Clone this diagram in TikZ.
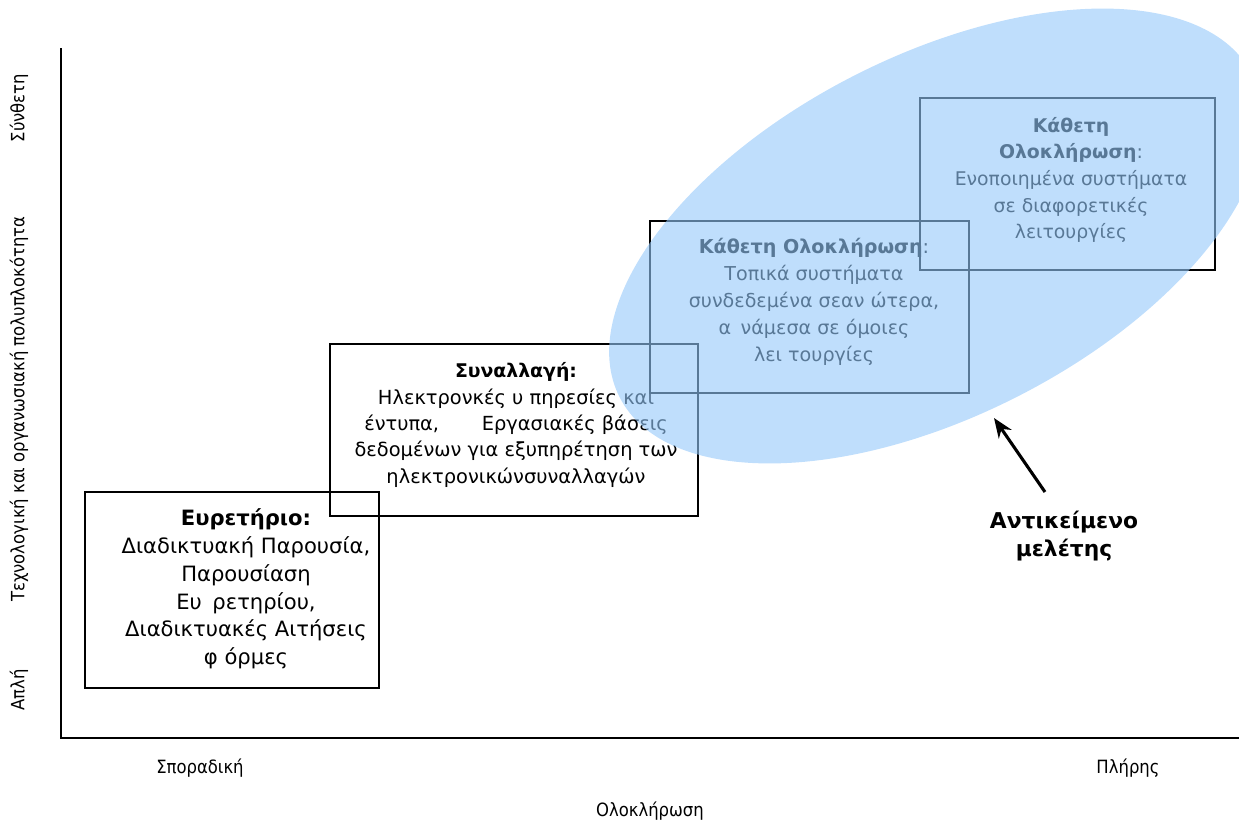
\documentclass[tikz,border=0pt]{standalone}
\usepackage{fontspec}
\setmainfont{DejaVu Sans}
\newfontfamily\axisfont{DejaVu Sans Condensed}
\usetikzlibrary{arrows.meta}
\definecolor{zoneblue}{RGB}{148,200,250}
\tikzset{
  stagebox/.style={draw=black, line width=1.6pt, inner sep=0pt},
  stagetext/.style={align=center, inner sep=0pt},
  axislabel/.style={font=\axisfont\fontsize{13}{15}\selectfont, inner sep=0pt},
  axisline/.style={line width=1.5pt},
}
\begin{document}
\begin{tikzpicture}[x=0.025cm, y=-0.025cm]
\useasboundingbox (0,0) rectangle (1239,822);

% axes
\coordinate (ytop) at (61,48);
\coordinate (origin) at (61,738);
\coordinate (xend) at (1239,738);
\draw[axisline] (ytop) -- (origin) -- (xend);

% axis labels
\node[axislabel, rotate=90] (simple) at (19,690) {Απλή};
\node[axislabel, rotate=90] (complexity) at (19,409) {Τεχνολογική και οργανωσιακή πολυπλοκότητα};
\node[axislabel, rotate=90] (compound) at (19,108) {Σύνθετη};
\node[axislabel] (sporadic) at (200,768) {Σποραδική};
\node[axislabel] (full) at (1128,768) {Πλήρης};
\node[axislabel] (integration) at (650,811) {Ολοκλήρωση};

% stage boxes
\node[stagebox, minimum width=7.35cm, minimum height=4.9cm] (b1) at (232,590) {};
\node[stagebox, minimum width=9.2cm, minimum height=4.3cm] (b2) at (514,430) {};
\node[stagebox, minimum width=7.975cm, minimum height=4.3cm] (b3) at (809.5,307) {};
\node[stagebox, minimum width=7.375cm, minimum height=4.3cm] (b4) at (1067.5,184) {};

\node[stagetext, font=\fontsize{15}{19.8}\selectfont] (t1) at (246,589)
  {\textbf{Ευρετήριο:}\\Διαδικτυακή Παρουσία,\\Παρουσίαση\\Ευ\enspace ρετηρίου,\\Διαδικτυακές Αιτήσεις\\φ όρμες};
\node[stagetext, font=\fontsize{13.8}{18.8}\selectfont] (t2) at (516,425)
  {{\fontsize{13.4}{18.8}\selectfont\textbf{Συναλλαγή:}}\\Ηλεκτρονκές υ πηρεσίες και\\έντυπα,\hspace{2.2em}Εργασιακές βάσεις\\δεδομένων για εξυπηρέτηση των\\ηλεκτρονικώνσυναλλαγών};
\node[stagetext, font=\fontsize{13.6}{19.2}\selectfont] (t3) at (814,302)
  {\textbf{Κάθετη Ολοκλήρωση}:\\Τοπικά συστήματα\\συνδεδεμένα σεαν ώτερα,\\α\enspace νάμεσα σε όμοιες\\λει τουργίες};
\node[stagetext, font=\fontsize{13.4}{19}\selectfont] (t4) at (1071,180)
  {\textbf{Κάθετη}\\\textbf{Ολοκλήρωση}:\\Ενοποιημένα συστήματα\\σε διαφορετικές\\λειτουργίες};

% study zone
\begin{scope}[shift={(936,236)}, rotate=27]
  \fill[zoneblue, opacity=0.6] (0,0) ellipse [x radius=8.875cm, y radius=4.5cm];
\end{scope}

% study object annotation
\node[align=center, font=\bfseries\fontsize{15.5}{20}\selectfont, inner sep=0pt] (obj) at (1064,536) {Αντικείμενο\\μελέτης};
\coordinate (tail) at (1045,492);
\coordinate (tip) at (994,418);
\draw[line width=2.2pt, -{Stealth[length=14pt, width=11pt]}] (tail) -- (tip);
\end{tikzpicture}
\end{document}
